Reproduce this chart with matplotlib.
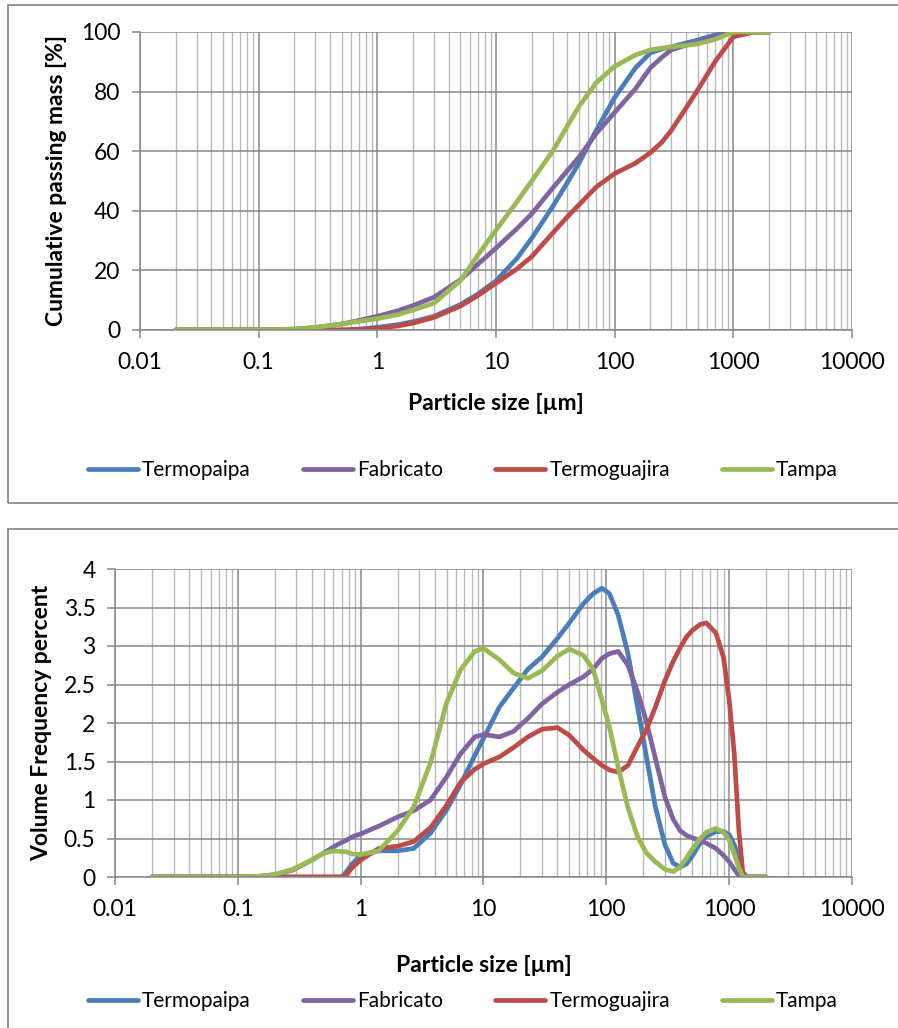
import matplotlib
matplotlib.use("Agg")
import matplotlib.pyplot as plt
from matplotlib.patches import Rectangle
from matplotlib.lines import Line2D
import numpy as np

plt.rcParams['font.family'] = ['Lato', 'DejaVu Sans']

# %%
# Cumulative passing mass [%]
size_cum = [0.02, 0.05, 0.1, 0.2, 0.3, 0.5, 0.7, 1, 1.5, 2, 3, 5, 7, 10, 15, 20,
            30, 40, 50, 70, 100, 150, 200, 250, 300, 400, 500, 700, 1000, 1500, 2000]
cum_termopaipa = [0, 0, 0, 0, 0, 0, 0.3, 0.9, 1.8, 2.8, 4.6, 8.5, 12, 16.5, 24, 30.8,
                  41.4, 49.5, 56, 67, 78, 88, 93, 94.3, 95, 96.3, 97.3, 99, 100, 100, 100]
cum_fabricato = [0, 0, 0, 0.3, 0.8, 2, 3.2, 4.6, 6.5, 8.2, 11, 16.8, 22, 27.5, 34, 39,
                 47.6, 53.5, 58, 66, 73, 81, 88, 91.5, 94, 95.6, 96.6, 98.4, 100, 100, 100]
cum_termoguajira = [0, 0, 0, 0, 0, 0, 0.1, 0.5, 1.4, 2.3, 4.2, 8, 11.5, 15.7, 20.5, 24.6,
                    32.5, 38, 42, 48, 52.5, 56, 59.5, 63, 67, 74.5, 80.5, 90, 98.4, 100, 100]
cum_tampa = [0, 0, 0, 0.3, 0.9, 2, 2.9, 3.8, 5.2, 6.7, 9, 16.5, 25, 33.5, 43, 50,
             60, 68.5, 75, 83, 88.5, 92.3, 94, 94.6, 95, 95.5, 96, 97.5, 100, 100, 100]

# Volume frequency percent
size_freq = [0.02, 0.05, 0.1, 0.15, 0.2, 0.28, 0.4, 0.5, 0.6, 0.7, 0.75, 0.85, 1, 1.4,
             2, 2.7, 3.7, 5, 6.5, 8.5, 10, 13.5, 17.5, 23, 30, 40, 50, 65, 78, 92, 106,
             125, 150, 180, 210, 250, 300, 350, 400, 450, 500, 580, 650, 780, 900,
             1000, 1100, 1200, 1300, 1400, 1600, 2000]
freq_termopaipa = [0, 0, 0, 0, 0, 0, 0, 0, 0, 0, 0.05, 0.17, 0.28, 0.34,
                   0.34, 0.37, 0.57, 0.87, 1.2, 1.58, 1.8, 2.21, 2.45, 2.7, 2.86, 3.1, 3.3, 3.55, 3.68, 3.75, 3.68,
                   3.4, 2.9, 2.2, 1.6, 0.92, 0.42, 0.18, 0.13, 0.17, 0.27, 0.44, 0.53, 0.59, 0.59,
                   0.55, 0.42, 0.25, 0.06, 0, 0, 0]
freq_fabricato = [0, 0, 0, 0.01, 0.03, 0.09, 0.22, 0.31, 0.39, 0.45, 0.47, 0.52, 0.56, 0.66,
                  0.78, 0.86, 1.0, 1.3, 1.6, 1.82, 1.85, 1.82, 1.89, 2.06, 2.25, 2.4, 2.5, 2.6, 2.7, 2.84, 2.9,
                  2.93, 2.75, 2.4, 2.04, 1.55, 1.04, 0.75, 0.6, 0.54, 0.51, 0.47, 0.44, 0.37, 0.28,
                  0.2, 0.1, 0.02, 0, 0, 0, 0]
freq_termoguajira = [0, 0, 0, 0, 0, 0, 0, 0, 0, 0, 0.01, 0.12, 0.22, 0.37,
                     0.4, 0.46, 0.64, 0.93, 1.23, 1.4, 1.47, 1.56, 1.68, 1.82, 1.92, 1.94, 1.84, 1.65, 1.54, 1.45, 1.39,
                     1.36, 1.45, 1.7, 1.9, 2.2, 2.55, 2.8, 2.98, 3.12, 3.2, 3.28, 3.3, 3.17, 2.85,
                     2.3, 1.6, 0.6, 0, 0, 0, 0]
freq_tampa = [0, 0, 0, 0.01, 0.03, 0.1, 0.22, 0.31, 0.34, 0.33, 0.33, 0.3, 0.29, 0.34,
              0.6, 0.91, 1.48, 2.26, 2.69, 2.93, 2.97, 2.82, 2.65, 2.58, 2.68, 2.87, 2.96, 2.88, 2.7, 2.3, 1.95,
              1.42, 0.9, 0.52, 0.32, 0.2, 0.1, 0.07, 0.13, 0.25, 0.36, 0.5, 0.58, 0.63, 0.58,
              0.48, 0.3, 0.12, 0, 0, 0, 0]

names = ['Termopaipa', 'Fabricato', 'Termoguajira', 'Tampa']
colors = ['#4A7EBB', '#8064A2', '#BE4B48', '#98B954']

xticks = [0.01, 0.1, 1, 10, 100, 1000, 10000]
xticklabels = ['0.01', '0.1', '1', '10', '100', '1000', '10000']

LW = 3.4

# %%
fig = plt.figure(figsize=(8.98, 10.28), dpi=100)

# outer chart frames
fig.patches.append(Rectangle((8/898, 1-503/1028), 1.0, 498/1028, transform=fig.transFigure,
                             fill=False, edgecolor='#8C8C8C', lw=1.3))
fig.patches.append(Rectangle((8/898, -0.05), 1.0, 1-529/1028+0.05, transform=fig.transFigure,
                             fill=False, edgecolor='#8C8C8C', lw=1.3))

ax1 = fig.add_axes([140/898, 1-330/1028, 712/898, 298/1028])
ax2 = fig.add_axes([115/898, 1-877/1028, 737/898, 308/1028])


def style_axes(ax, xlabelpad):
    ax.set_xscale('log')
    ax.set_xlim(0.01, 10000)
    ax.set_xticks(xticks)
    ax.set_xticklabels(xticklabels)
    ax.grid(True, which='major', color='#878787', lw=1.1)
    ax.grid(True, which='minor', axis='x', color='#B8B8B8', lw=1.0)
    ax.set_axisbelow(True)
    for s in ['top', 'right']:
        ax.spines[s].set_visible(False)
    for s in ['left', 'bottom']:
        ax.spines[s].set_color('#878787')
        ax.spines[s].set_linewidth(1.1)
    ax.tick_params(axis='both', which='major', length=6, width=1.1, color='#878787',
                   labelsize=16.5)
    ax.tick_params(axis='x', which='major', pad=10)
    ax.tick_params(axis='y', which='major', pad=8)
    ax.tick_params(axis='x', which='minor', length=0)
    ax.set_xlabel('Particle size [µm]', fontsize=16.5, fontweight='bold', labelpad=xlabelpad)


# %%
style_axes(ax1, 14)
for name, c, y in zip(names, colors, [cum_termopaipa, cum_fabricato, cum_termoguajira, cum_tampa]):
    ax1.plot(size_cum, y, color=c, lw=LW, label=name, solid_capstyle='round', solid_joinstyle='round')
ax1.set_ylim(0, 100)
ax1.set_yticks(np.arange(0, 101, 20))
ax1.set_ylabel('Cumulative passing mass [%]', fontsize=16.5, fontweight='bold', labelpad=10)

style_axes(ax2, 25)
for name, c, y in zip(names, colors, [freq_termopaipa, freq_fabricato, freq_termoguajira, freq_tampa]):
    ax2.plot(size_freq, y, color=c, lw=LW, label=name, solid_capstyle='round', solid_joinstyle='round')
ax2.set_ylim(0, 4)
ax2.set_yticks(np.arange(0, 4.01, 0.5))
ax2.set_yticklabels(['0', '0.5', '1', '1.5', '2', '2.5', '3', '3.5', '4'])
ax2.set_ylabel('Volume Frequency percent', fontsize=16.5, fontweight='bold', labelpad=8)

handles = [Line2D([0], [0], color=c, lw=LW, solid_capstyle='round') for c in colors]
for ycen in [1-470/1028, 1-1001/1028]:
    fig.legend(handles, names, loc='center', bbox_to_anchor=(463/898, ycen), ncol=4,
               frameon=False, fontsize=15, handlelength=2.4, handletextpad=0.2,
               columnspacing=2.5)

fig.savefig('out.png', dpi=100)
